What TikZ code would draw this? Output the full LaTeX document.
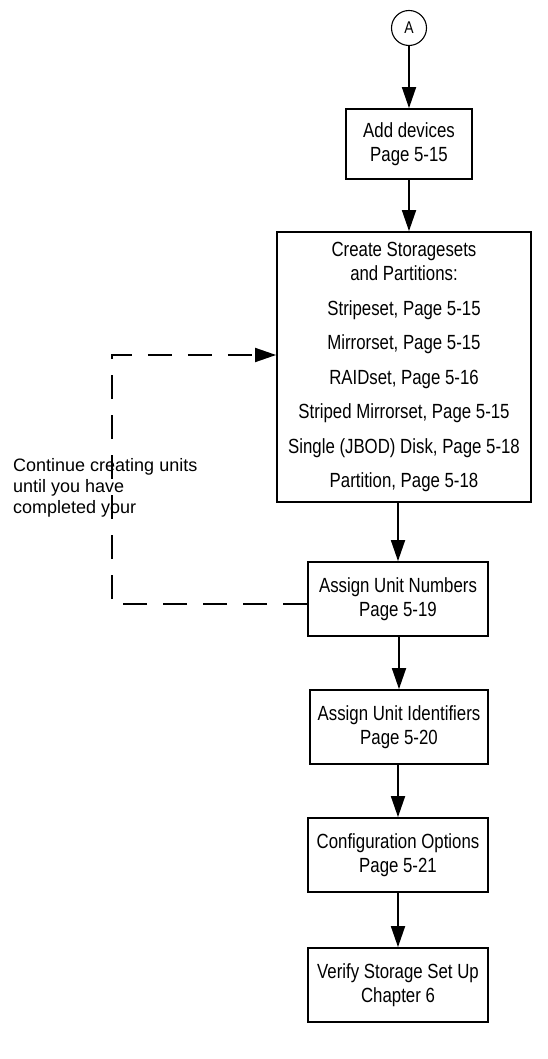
\documentclass[tikz,border=0pt]{standalone}
\usepackage{fontspec}
\setmainfont{Liberation Sans}
\newfontfamily\boxfont{Liberation Sans}[FakeStretch=0.82]
\usetikzlibrary{arrows.meta}
\begin{document}
\begin{tikzpicture}[x=1pt,y=-1pt,
  stepbox/.style={draw, line width=1.8pt, inner sep=0pt, align=center,
    font=\boxfont\fontsize{20.5}{24}\selectfont},
  flow/.style={line width=1.8pt, -{Triangle[length=21pt,width=14pt]}},
  loopline/.style={line width=1.8pt, dash pattern=on 24pt off 16pt,
    -{Triangle[length=21pt,width=14pt]}},
  note/.style={inner sep=0pt, align=left, font=\fontsize{18}{21}\selectfont}]
\useasboundingbox (0,0) rectangle (547,1059);

\node[draw, circle, line width=1.1pt, minimum size=35pt, inner sep=0pt,
  font=\boxfont\fontsize{17}{17}\selectfont] (A) at (409,28) {A};

\node[stepbox, minimum width=126pt, minimum height=70pt] (b1) at (409,144)
  {Add devices\\Page 5-15};

\node[stepbox, minimum width=254pt, minimum height=270pt] (b2) at (404,367)
  {Create Storagesets\\and Partitions:\\[10.5pt]
   Stripeset, Page 5-15\\[10.5pt]
   Mirrorset, Page 5-15\\[10.5pt]
   RAIDset, Page 5-16\\[10.5pt]
   Striped Mirrorset, Page 5-15\\[10.5pt]
   Single (JBOD) Disk, Page 5-18\\[10.5pt]
   Partition, Page 5-18};

\node[stepbox, minimum width=180pt, minimum height=74pt] (an) at (398,599)
  {Assign Unit Numbers\\Page 5-19};
\node[stepbox, minimum width=178pt, minimum height=74pt] (ai) at (399,727)
  {Assign Unit Identifiers\\Page 5-20};
\node[stepbox, minimum width=180pt, minimum height=74pt] (co) at (398,855)
  {Configuration Options\\Page 5-21};
\node[stepbox, minimum width=180pt, minimum height=74pt] (ve) at (398,985)
  {Verify Storage Set Up\\Chapter 6};

\node[note, anchor=north west] (txt) at (13,458)
  {Continue creating units\\until you have\\completed your};

\draw[flow] (A.south) -- (A.south |- b1.north);
\draw[flow] (b1.south) -- (b1.south |- b2.north);
\draw[flow] (an.north |- b2.south) -- (an.north);
\draw[flow] (ai.north |- an.south) -- (ai.north);
\draw[flow] (co.north |- ai.south) -- (co.north);
\draw[flow] (ve.north |- co.south) -- (ve.north);

\coordinate (lc) at (112,355);
\coordinate (ls) at ([yshift=-5pt]an.west);
\draw[loopline] (ls) -| (lc) -- (lc -| b2.west);
\end{tikzpicture}
\end{document}
